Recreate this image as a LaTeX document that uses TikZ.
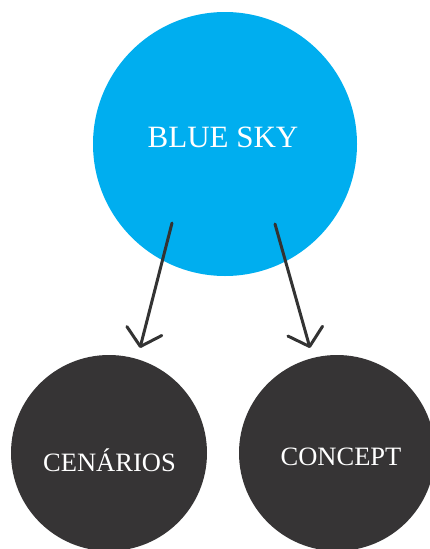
\documentclass[tikz,border=0pt]{standalone}
\usepackage{fontspec}
\setmainfont{Liberation Serif}
\usetikzlibrary{arrows.meta}
\definecolor{skyblue}{HTML}{00AEEF}
\definecolor{darkdisc}{HTML}{363435}
\definecolor{arrowgray}{HTML}{333333}
\begin{document}
\begin{tikzpicture}[x=1pt,y=-1pt,
  disc/.style={circle,inner sep=0pt,text=white,font=\fontsize{26.5}{30}\selectfont},
  link/.style={draw=arrowgray,line width=3pt,line cap=round,
    -{Straight Barb[length=16pt,width=36pt,line cap=round,round]}}]
\useasboundingbox (0,0) rectangle (430,549);
\clip (0,0) rectangle (430,549);
\node[disc,fill=skyblue,minimum size=264pt,font=\fontsize{31}{34}\selectfont] (sky) at (225,144) {};
\node[text=white,font=\fontsize{31}{34}\selectfont] (skyt) at (223,137) {BLUE SKY};
\node[disc,fill=darkdisc,minimum size=196pt] (cen) at (109,453) {};
\node[disc,fill=darkdisc,minimum size=196pt] (con) at (337,453) {};
\node[text=white,font=\fontsize{26.5}{30}\selectfont] (cent) at (109.5,460) {CENÁRIOS};
\node[text=white,font=\fontsize{26.5}{30}\selectfont] (cont) at (341,457) {CONCEPT};
\coordinate (s1) at (172,223);
\coordinate (t1) at (140,348);
\coordinate (s2) at (275,224);
\coordinate (t2) at (310,348);
\draw[link] (s1) -- (t1);
\draw[link] (s2) -- (t2);
\end{tikzpicture}
\end{document}
